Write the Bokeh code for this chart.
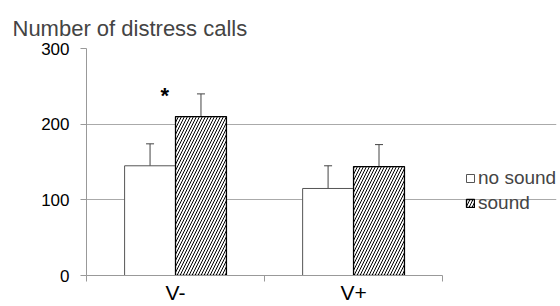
from bokeh.plotting import figure
from bokeh.models import (Range1d, FixedTicker, Whisker, TeeHead, ColumnDataSource,
                          Legend, LegendItem)
from bokeh.core.properties import value
from bokeh.embed import file_html
from bokeh.resources import INLINE

categories = ["V-", "V+"]
series_names = ["no sound", "sound"]
no_sound = [145, 115]
no_sound_err = [29, 30]
sound = [210, 144]
sound_err = [30, 29]
y_ticks = [0, 100, 200, 300]
sig_marks = ["*", ""]

FONT = "Liberation Sans"
BAR_W = 0.286
OFF = 0.143
N = len(categories)

centers = [i + 0.5 for i in range(N)]
p = figure(width=558, height=306, output_backend="svg", toolbar_location=None,
           x_range=Range1d(0, N * 1.32), y_range=Range1d(0, 300),
           min_border_left=86, min_border_right=2, min_border_top=48, min_border_bottom=10)
p.outline_line_color = None
p.background_fill_color = "white"

src_ns = ColumnDataSource(dict(x=[c - OFF for c in centers], top=no_sound,
                               lo=[v - e for v, e in zip(no_sound, no_sound_err)],
                               hi=[v + e for v, e in zip(no_sound, no_sound_err)]))
src_s = ColumnDataSource(dict(x=[c + OFF for c in centers], top=sound,
                              lo=[v - e for v, e in zip(sound, sound_err)],
                              hi=[v + e for v, e in zip(sound, sound_err)]))

r1 = p.vbar(x="x", top="top", width=BAR_W, source=src_ns, fill_color="white",
            line_color="#555555", line_width=1)
r2 = p.vbar(x="x", top="top", width=BAR_W, source=src_s, fill_color="white",
            line_color="black", line_width=1.3, hatch_pattern="/", hatch_color="black",
            hatch_scale=6, hatch_weight=1)

for src in (src_ns, src_s):
    w = Whisker(base="x", lower="lo", upper="hi", source=src, line_color="#444444",
                line_width=1,
                lower_head=TeeHead(size=8, line_color="#444444", line_width=1),
                upper_head=TeeHead(size=8, line_color="#444444", line_width=1))
    p.add_layout(w)

p.text(x=[c - 0.06 for c in centers], y=[238, 0], text=sig_marks,
       text_font=value(FONT), text_font_size="22px", text_font_style="bold",
       text_align="center", text_baseline="middle", text_color="black")

# axes
p.yaxis.ticker = FixedTicker(ticks=y_ticks)
p.yaxis.major_label_text_font = FONT
p.yaxis.major_label_text_font_size = "17px"
p.yaxis.major_label_text_color = "black"
p.yaxis.axis_line_color = "#999999"
p.yaxis.major_tick_line_color = "#999999"
p.yaxis.major_tick_out = 6
p.yaxis.major_tick_in = 0
p.yaxis.minor_tick_line_color = None
p.yaxis.major_label_standoff = 11

p.xaxis.ticker = FixedTicker(ticks=centers, minor_ticks=list(range(N + 1)))
p.xaxis.bounds = (0, N)
p.xaxis.major_label_overrides = {c: lab for c, lab in zip(centers, categories)}
p.xaxis.major_label_text_font = FONT
p.xaxis.major_label_text_font_size = "21px"
p.xaxis.major_label_text_color = "black"
p.xaxis.axis_line_color = "#999999"
p.xaxis.major_tick_line_color = None
p.xaxis.minor_tick_line_color = "#999999"
p.xaxis.minor_tick_out = 6
p.xaxis.minor_tick_in = 0
p.xaxis.major_label_standoff = -1

p.xgrid.grid_line_color = None
p.ygrid.ticker = FixedTicker(ticks=y_ticks)
p.ygrid.bounds = (0, N)
p.ygrid.grid_line_color = "#aaaaaa"

legend = Legend(items=[LegendItem(label=series_names[0], renderers=[r1]),
                       LegendItem(label=series_names[1], renderers=[r2])],
                location=(379, 61), orientation="vertical",
                label_text_font=FONT, label_text_font_size="19px",
                glyph_width=10, glyph_height=10, label_standoff=3, spacing=3,
                padding=0, margin=0, border_line_color=None,
                background_fill_alpha=0)
p.add_layout(legend, "center")

p.title.text = "Number of distress calls"
p.title.text_font = FONT
p.title.text_font_size = "22px"
p.title.text_font_style = "normal"
p.title.align = "left"
p.title.offset = -74
p.title.standoff = 16

open("out.html", "w").write(file_html(p, INLINE))
